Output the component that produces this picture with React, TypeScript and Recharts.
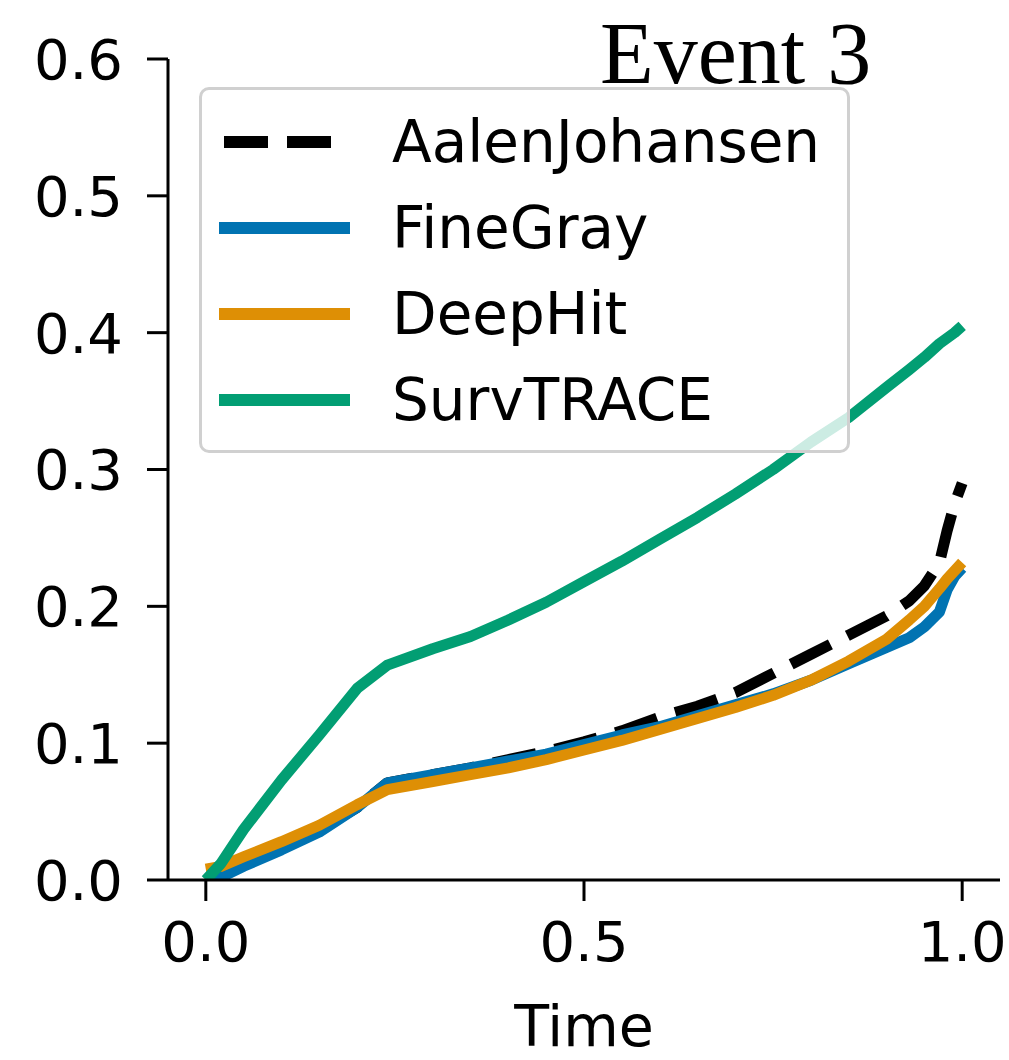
import React from 'react';
import { LineChart, Line, XAxis, YAxis, Legend } from 'recharts';

// time grid and cumulative incidence curves
const time = [0, 0.02, 0.05, 0.1, 0.15, 0.2, 0.24, 0.3, 0.35, 0.4, 0.45, 0.5, 0.55, 0.6, 0.65, 0.7, 0.75, 0.8, 0.85, 0.9, 0.93, 0.95, 0.97, 0.98, 0.99, 1.0];
const aalenJohansen = [0, 0.003, 0.012, 0.024, 0.037, 0.053, 0.071, 0.077, 0.082, 0.088, 0.094, 0.101, 0.109, 0.119, 0.127, 0.137, 0.151, 0.165, 0.179, 0.193, 0.204, 0.215, 0.232, 0.255, 0.275, 0.29];
const fineGray = [0, 0.002, 0.01, 0.022, 0.035, 0.053, 0.071, 0.077, 0.082, 0.087, 0.092, 0.099, 0.106, 0.112, 0.12, 0.128, 0.136, 0.146, 0.158, 0.17, 0.177, 0.185, 0.196, 0.212, 0.222, 0.228];
const deepHit = [0.008, 0.01, 0.017, 0.028, 0.04, 0.055, 0.066, 0.072, 0.077, 0.082, 0.088, 0.095, 0.102, 0.11, 0.118, 0.126, 0.135, 0.146, 0.16, 0.176, 0.19, 0.2, 0.213, 0.22, 0.226, 0.232];
const survTrace = [0, 0.012, 0.037, 0.073, 0.106, 0.14, 0.157, 0.169, 0.178, 0.19, 0.203, 0.218, 0.233, 0.249, 0.265, 0.282, 0.3, 0.32, 0.338, 0.36, 0.373, 0.382, 0.392, 0.396, 0.4, 0.405];

const xTicks = [0, 0.5, 1.0];
const yTicks = [0, 0.1, 0.2, 0.3, 0.4, 0.5, 0.6];

const series = [
  { key: 'aj', name: 'AalenJohansen', color: '#000000', dash: '44 19' },
  { key: 'fg', name: 'FineGray', color: '#0173b2' },
  { key: 'dh', name: 'DeepHit', color: '#de8f05' },
  { key: 'st', name: 'SurvTRACE', color: '#029e73' },
];

const chartData = time.map((t, i) => ({
  t,
  aj: aalenJohansen[i],
  fg: fineGray[i],
  dh: deepHit[i],
  st: survTrace[i],
}));

const FONT = '"DejaVu Sans", sans-serif';

const LegendBox = () => (
  <div
    style={{
      width: 651,
      height: 366,
      boxSizing: 'border-box',
      border: '3px solid #d0d0d0',
      borderRadius: 10,
      background: 'rgba(255,255,255,0.8)',
      position: 'relative',
      fontFamily: FONT,
    }}
  >
    {series.map((s, i) => (
      <div key={s.key} style={{ position: 'absolute', left: 0, top: 52 + i * 86 - 40, height: 80, width: '100%' }}>
        <svg width={150} height={80} style={{ position: 'absolute', left: 0, top: 0 }}>
          <line
            x1={17}
            x2={148}
            y1={40}
            y2={40}
            stroke={s.color}
            strokeWidth={12}
            strokeDasharray={s.dash ? '44 19' : undefined}
            strokeDashoffset={s.dash ? -5 : 0}
          />
        </svg>
        <span
          style={{
            position: 'absolute',
            left: 190,
            top: 0,
            lineHeight: '80px',
            fontSize: 58,
            color: '#000',
            whiteSpace: 'nowrap',
          }}
        >
          {s.name}
        </span>
      </div>
    ))}
  </div>
);

export default function App() {
  return (
    <div style={{ position: 'absolute', left: 0, top: 0, width: 1009, height: 1060, background: '#fff' }}>
      <LineChart
        width={1009}
        height={1060}
        data={chartData}
        margin={{ top: 59, right: 9, left: 0, bottom: 0 }}
      >
        <XAxis
          dataKey="t"
          type="number"
          domain={[-0.05, 1.05]}
          ticks={xTicks}
          tickFormatter={(v: number) => v.toFixed(1)}
          height={180}
          tickSize={21}
          tickMargin={20}
          axisLine={{ stroke: '#000', strokeWidth: 3 }}
          tickLine={{ stroke: '#000', strokeWidth: 3 }}
          tick={{ fill: '#000', fontSize: 56, fontFamily: FONT }}
          label={{ value: 'Time', position: 'insideBottom', offset: 14, fill: '#000', fontSize: 57, fontFamily: FONT }}
          allowDataOverflow
        />
        <YAxis
          type="number"
          domain={[0, 0.6]}
          ticks={yTicks}
          tickFormatter={(v: number) => v.toFixed(1)}
          width={168}
          tickSize={21}
          tickMargin={24}
          axisLine={{ stroke: '#000', strokeWidth: 3 }}
          tickLine={{ stroke: '#000', strokeWidth: 3 }}
          tick={{ fill: '#000', fontSize: 56, fontFamily: FONT }}
          allowDataOverflow
        />
        {series.map((s) => (
          <Line
            key={s.key}
            dataKey={s.key}
            name={s.name}
            type="linear"
            stroke={s.color}
            strokeWidth={11}
            strokeDasharray={s.dash}
            strokeLinejoin="round"
            dot={false}
            activeDot={false}
            isAnimationActive={false}
          />
        ))}
        <Legend
          layout="vertical"
          verticalAlign="middle"
          align="center"
          content={() => <LegendBox />}
          wrapperStyle={{ position: 'absolute', left: 199, top: 87, width: 651, height: 366 }}
        />
      </LineChart>
      <svg width={1009} height={110} style={{ position: 'absolute', left: 0, top: 0, pointerEvents: 'none' }}>
        <text x={600} y={83} fontFamily='"Liberation Serif", serif' fontSize={88} fill="#000">
          Event 3
        </text>
      </svg>
    </div>
  );
}
